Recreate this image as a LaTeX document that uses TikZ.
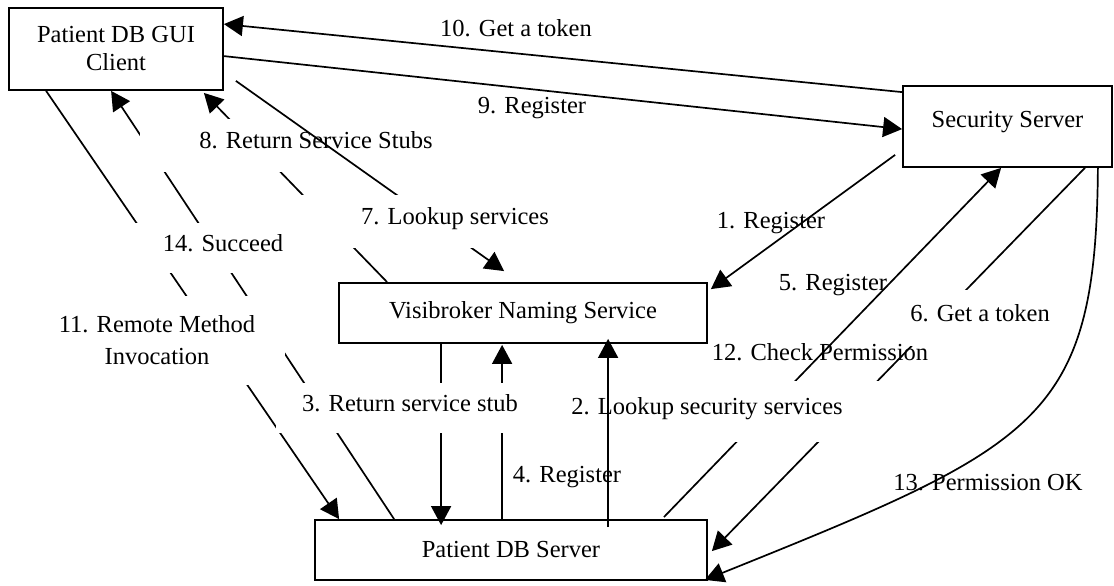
\documentclass[tikz,border=0pt]{standalone}
\usepackage{fontspec}
\setmainfont{Liberation Serif}
\usetikzlibrary{arrows.meta}

\begin{document}
\begin{tikzpicture}[x=1pt,y=-1pt,
  every node/.style={font=\fontsize{24.5}{28}\selectfont},
  box/.style={draw,line width=1.8pt,inner sep=0pt},
  lbl/.style={inner sep=0pt,text height=0.68em,text depth=0pt},
  cover/.style={lbl,fill=white},
  wire/.style={line width=1.7pt},
  conn/.style={wire,-{Triangle[length=19pt,width=20pt]}}
]
\useasboundingbox (0,0) rectangle (1114,586);

% components
\node[box,minimum width=214pt,minimum height=82pt,align=center] (gui) at (116,49)
  {Patient DB GUI\\Client};
\node[box,minimum width=209pt,minimum height=81pt] (sec) at (1007.5,126.5)
  {\raisebox{14.5pt}{Security Server}};
\node[box,minimum width=368pt,minimum height=60pt] (nam) at (523,313)
  {Visibroker Naming Service};
\node[box,minimum width=392pt,minimum height=60pt] (dbs) at (511,550)
  {Patient DB Server};

% client <-> security server
\draw[conn] ([yshift=-7pt]sec.north west) -- ([yshift=-17pt]gui.north east);
\draw[conn] ([yshift=-49pt]gui.north east) -- ([yshift=-44pt]sec.north west);
\node[lbl] (l10) at (516,33) {10. Get a token};
\node[lbl] (l9) at (532,110) {9. Register};

% client <-> naming service / DB server
\draw[conn] ([xshift=49pt]nam.north west) -- ([xshift=-20pt,yshift=-2pt]gui.south east);
\draw[conn] ([xshift=80pt]dbs.north west) -- ([xshift=103pt]gui.south west);
\draw[conn] ([xshift=38pt]gui.south west) -- ([xshift=25pt]dbs.north west);
\node[cover,minimum width=352pt,minimum height=53pt] (l8) at (316,145.5) {8. Return Service Stubs};
\draw[conn] ([xshift=12pt,yshift=10pt]gui.south east) -- ([xshift=166pt,yshift=11pt]nam.north west);
\node[cover,minimum width=314pt,minimum height=53pt] (l7) at (455,221.5) {7. Lookup services};
\node[cover,minimum width=176pt,minimum height=50pt] (l14) at (223,248) {14. Succeed};
\node[inner sep=0pt,fill=white,minimum width=256pt,minimum height=89pt,align=center] (l11) at (157,340)
  {11. Remote Method\\[4pt]Invocation};

% naming service <-> DB server
\draw[conn] ([xshift=103pt]nam.south west) -- ([xshift=127pt,yshift=-6pt]dbs.north west);
\draw[conn] ([xshift=188pt]dbs.north west) -- ([xshift=164pt,yshift=-1pt]nam.south west);
\node[cover,minimum width=268pt,minimum height=50pt] (l3) at (410,408) {3. Return service stub};

% security server <-> naming service / DB server
\draw[conn] ([xshift=-44pt,yshift=2pt]dbs.north east) -- ([xshift=99pt]sec.south west);
\draw[conn] ([xshift=-28pt]sec.south east) -- ([xshift=4pt,yshift=-32pt]dbs.north east);
\draw[conn] ([xshift=-15pt]sec.south east) .. controls (1096,420) and (1040,445) .. ([xshift=-3pt,yshift=1pt]dbs.south east);
\draw[conn] ([xshift=-7pt,yshift=13pt]sec.south west) -- ([xshift=3pt,yshift=-7pt]nam.north east);
\node[cover,minimum width=160pt,minimum height=56pt] (l6) at (980,318) {6. Get a token};
\node[cover,minimum width=350pt,minimum height=61pt] (l2) at (707,411) {2. Lookup security services};
\draw[conn] ([xshift=294pt,yshift=-8pt]dbs.north west) -- ([xshift=270pt,yshift=5pt]nam.south west);

% remaining labels
\node[lbl] (l1) at (771,225) {1. Register};
\node[lbl] (l5) at (833,287) {5. Register};
\node[lbl] (l12) at (820,357) {12. Check Permission};
\node[lbl] (l4) at (567,479) {4. Register};
\node[lbl] (l13) at (988,487) {13. Permission OK};
\end{tikzpicture}
\end{document}
